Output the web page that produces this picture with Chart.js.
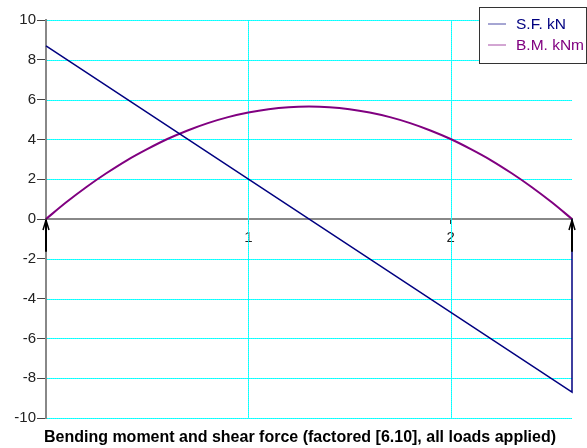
<!DOCTYPE html>
<html>
<head>
<meta charset="utf-8">
<script src="https://cdn.jsdelivr.net/npm/chart.js@4/dist/chart.umd.min.js"></script>
<style>
  html, body { margin: 0; padding: 0; background: #fff; }
  #wrap { width: 587px; height: 448px; }
</style>
</head>
<body>
<div id="wrap"><canvas id="beamChart" width="587" height="448"></canvas></div>
<script>
// Beam diagram values (x in m)
const bmX = [0, 0.1, 0.2, 0.3, 0.4, 0.5, 0.6, 0.7, 0.8, 0.9, 1.0, 1.1, 1.2, 1.3,
             1.4, 1.5, 1.6, 1.7, 1.8, 1.9, 2.0, 2.1, 2.2, 2.3, 2.4, 2.5, 2.6];
const bendingMoment = [0, 0.84, 1.61, 2.31, 2.95, 3.51, 4.02, 4.45, 4.82, 5.12, 5.35, 5.52, 5.62, 5.65,
                       5.62, 5.52, 5.35, 5.12, 4.82, 4.45, 4.02, 3.51, 2.95, 2.31, 1.61, 0.84, 0];
const sfX = [0, 2.6, 2.6];
const shearForce = [8.7, -8.7, 0];
const reactionX = [0, 2.6];
const reactionLength = 1.65;

const xTickValues = [1, 2];
const yTickValues = [-10, -8, -6, -4, -2, 0, 2, 4, 6, 8, 10];

const legendItems = [
    { label: 'S.F. kN', color: '#000080' },
    { label: 'B.M. kNm', color: '#800080' }
];
const chartTitle = 'Bending moment and shear force (factored [6.10], all loads applied)';

const FONT = '"Liberation Sans", Arial, sans-serif';

function toPoints(xs, ys) {
    return xs.map(function (x, i) { return { x: x, y: ys[i] }; });
}

// dotted cyan grid, taken from the scales' own ticks
const gridPlugin = {
    id: 'dottedGrid',
    beforeDatasetsDraw: function (chart) {
        const ctx = chart.ctx;
        const area = chart.chartArea;
        const xs = chart.scales.x;
        const ys = chart.scales.y;
        const lines = [];
        ys.ticks.forEach(function (t) {
            if (t.value === 0) return;
            const py = Math.round(ys.getPixelForValue(t.value)) + 0.5;
            lines.push([area.left + 1, py, area.right, py]);
        });
        xs.ticks.forEach(function (t) {
            const px = Math.round(xs.getPixelForValue(t.value)) + 0.5;
            lines.push([px, area.top, px, area.bottom]);
        });
        ctx.save();
        ctx.lineWidth = 1;
        [['rgba(0,255,255,0.8)', []], ['#00ffff', [1, 1]]].forEach(function (pass) {
            ctx.strokeStyle = pass[0];
            ctx.setLineDash(pass[1]);
            lines.forEach(function (l) {
                ctx.beginPath();
                ctx.moveTo(l[0], l[1]);
                ctx.lineTo(l[2], l[3]);
                ctx.stroke();
            });
        });
        ctx.restore();
    }
};

// reaction arrows, legend box and caption
const extrasPlugin = {
    id: 'extras',
    afterDatasetsDraw: function (chart) {
        const ctx = chart.ctx;
        const xs = chart.scales.x;
        const ys = chart.scales.y;
        ctx.save();
        ctx.strokeStyle = '#000';
        reactionX.forEach(function (rx) {
            const px = Math.round(xs.getPixelForValue(rx));
            const top = ys.getPixelForValue(0);
            const bottom = ys.getPixelForValue(-reactionLength);
            ctx.lineWidth = 2;
            ctx.beginPath();
            ctx.moveTo(px, bottom);
            ctx.lineTo(px, top + 1);
            ctx.stroke();
            ctx.lineWidth = 1.5;
            ctx.beginPath();
            ctx.moveTo(px - 3, top + 11);
            ctx.lineTo(px, top + 1);
            ctx.lineTo(px + 3, top + 11);
            ctx.stroke();
        });
        ctx.restore();
    },
    afterDraw: function (chart) {
        const ctx = chart.ctx;
        ctx.save();
        // legend
        ctx.fillStyle = '#fff';
        ctx.fillRect(479, 7, 107, 56);
        ctx.strokeStyle = '#333';
        ctx.lineWidth = 1;
        ctx.strokeRect(479.5, 7.5, 107, 56);
        ctx.font = '15.5px ' + FONT;
        ctx.textBaseline = 'middle';
        ctx.textAlign = 'left';
        legendItems.forEach(function (item, i) {
            const y = 24 + i * 21;
            ctx.strokeStyle = item.color;
            ctx.globalAlpha = 0.7;
            ctx.beginPath();
            ctx.moveTo(488, y);
            ctx.lineTo(506, y);
            ctx.stroke();
            ctx.globalAlpha = 1;
            ctx.fillStyle = item.color;
            ctx.fillText(item.label, 516, y + 1);
        });
        // caption
        ctx.fillStyle = '#000';
        ctx.font = 'bold 16px ' + FONT;
        ctx.textAlign = 'center';
        ctx.textBaseline = 'alphabetic';
        ctx.fillText(chartTitle, 300, 442);
        ctx.restore();
    }
};

const ctx = document.getElementById('beamChart');
new Chart(ctx, {
    type: 'line',
    data: {
        datasets: [
            {
                label: 'B.M. kNm',
                data: toPoints(bmX, bendingMoment),
                borderColor: '#800080',
                borderWidth: 2,
                pointRadius: 0,
                cubicInterpolationMode: 'monotone',
                clip: 4,
                order: 2
            },
            {
                label: 'S.F. kN',
                data: toPoints(sfX, shearForce),
                borderColor: '#000080',
                borderWidth: 1.5,
                pointRadius: 0,
                tension: 0,
                clip: 4,
                order: 1
            }
        ]
    },
    options: {
        responsive: false,
        animation: false,
        devicePixelRatio: 1,
        layout: { padding: { left: 0, right: 15, top: 20, bottom: 30 } },
        plugins: {
            legend: { display: false },
            tooltip: { enabled: false }
        },
        scales: {
            x: {
                type: 'linear',
                position: { y: 0 },
                min: 0,
                max: 2.6,
                afterBuildTicks: function (scale) {
                    scale.ticks = xTickValues.map(function (v) { return { value: v }; });
                },
                afterFit: function (scale) { scale.height = 0; },
                grid: {
                    drawOnChartArea: false,
                    tickLength: 4,
                    tickColor: '#333'
                },
                border: { display: true, color: '#888', width: 2 },
                ticks: {
                    color: '#222',
                    padding: 6,
                    maxRotation: 0,
                    font: { family: FONT, size: 15 }
                }
            },
            y: {
                type: 'linear',
                position: 'left',
                min: -10,
                max: 10,
                afterBuildTicks: function (scale) {
                    scale.ticks = yTickValues.map(function (v) { return { value: v }; });
                },
                afterFit: function (scale) { scale.width = 46; },
                grid: {
                    drawOnChartArea: false,
                    tickLength: 9,
                    tickColor: '#444'
                },
                border: { display: true, color: '#888', width: 2 },
                ticks: {
                    color: '#222',
                    padding: 1,
                    font: { family: FONT, size: 15 }
                }
            }
        }
    },
    plugins: [gridPlugin, extrasPlugin]
});
</script>
</body>
</html>
